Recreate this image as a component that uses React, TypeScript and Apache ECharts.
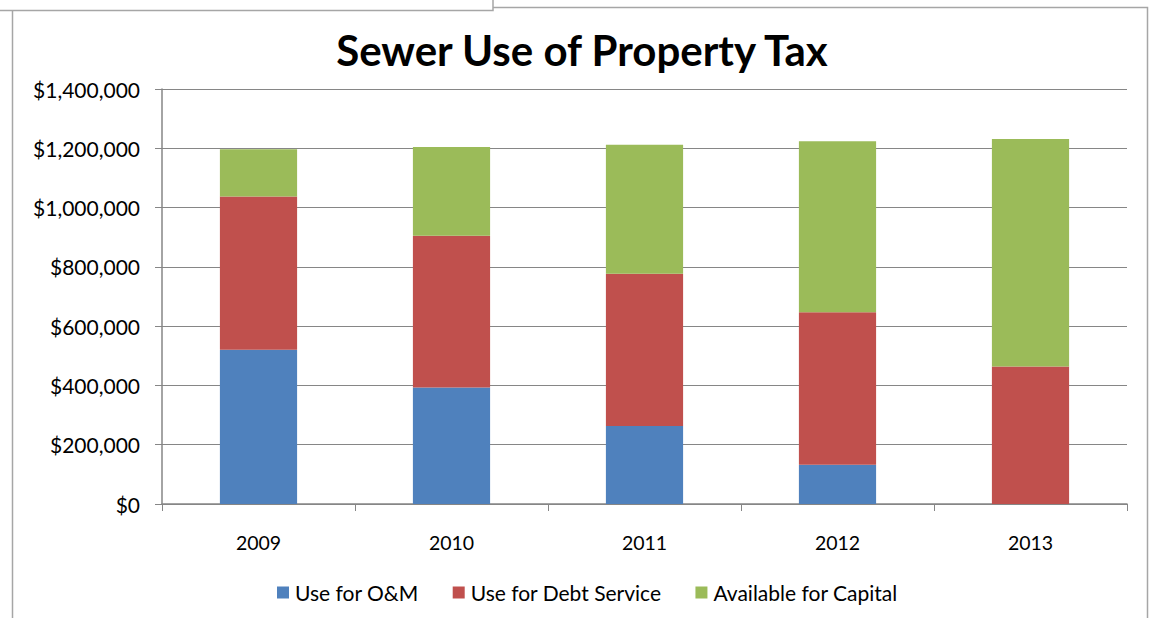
import React, { useEffect, useRef } from "react";
import * as echarts from "echarts";

const categories = ["2009", "2010", "2011", "2012", "2013"];
const omValues = [520000, 393000, 263000, 132000, 0];
const debtValues = [517000, 512000, 514000, 515000, 464000];
const capitalValues = [160000, 299000, 435000, 577000, 767000];
const seriesNames = ["Use for O&M", "Use for Debt Service", "Available for Capital"];
const yTicks = { min: 0, max: 1400000, interval: 200000 };

const FONT = "Lato";

export default function App() {
  const ref = useRef<HTMLDivElement>(null);
  useEffect(() => {
    if (!ref.current) return;
    const chart = echarts.init(ref.current, undefined, { renderer: "svg" });
    const fmt = (v: number) => "$" + v.toLocaleString("en-US");
    chart.setOption({
      animation: false,
      backgroundColor: "#ffffff",
      textStyle: { fontFamily: FONT },
      title: {
        text: "Sewer Use of Property Tax",
        left: 577,
        textAlign: "center",
        top: 24,
        textStyle: { fontFamily: FONT, fontWeight: "bold", fontSize: 42, color: "#000" },
      },
      legend: {
        data: seriesNames,
        left: 272,
        top: 577,
        itemWidth: 12,
        itemHeight: 12,
        itemGap: 34,
        icon: "rect",
        textStyle: { fontFamily: FONT, fontSize: 21, color: "#000", padding: [0, 0, 0, 1] },
      },
      grid: { left: 162, right: 23, top: 89, bottom: 114, containLabel: false },
      xAxis: {
        type: "category",
        data: categories,
        axisLine: { lineStyle: { color: "#868686", width: 1.5 } },
        axisTick: { show: true, length: 7, lineStyle: { color: "#868686" } },
        axisLabel: { fontFamily: FONT, fontSize: 19.5, color: "#000", margin: 28 },
      },
      yAxis: {
        type: "value",
        min: yTicks.min,
        max: yTicks.max,
        interval: yTicks.interval,
        axisLine: { show: true, lineStyle: { color: "#868686", width: 1.5 } },
        axisTick: { show: true, length: 7, lineStyle: { color: "#868686" } },
        splitLine: { lineStyle: { color: "#868686", width: 1 } },
        axisLabel: { fontFamily: FONT, fontSize: 21, color: "#000", margin: 22, formatter: fmt },
      },
      series: [
        { name: seriesNames[0], type: "bar", stack: "t", barWidth: "40%", data: omValues, itemStyle: { color: "#4F81BD" } },
        { name: seriesNames[1], type: "bar", stack: "t", barWidth: "40%", data: debtValues, itemStyle: { color: "#C0504D" } },
        { name: seriesNames[2], type: "bar", stack: "t", barWidth: "40%", data: capitalValues, itemStyle: { color: "#9BBB59" } },
      ],
      graphic: [
        {
          type: "rect",
          shape: { x: 12.5, y: 7.5, width: 1135, height: 700 },
          style: { fill: "none", stroke: "#a6a6a6", lineWidth: 1.5 },
          silent: true,
        },
        {
          type: "rect",
          shape: { x: -2, y: -2, width: 495, height: 12.5 },
          style: { fill: "#ffffff", stroke: "#a6a6a6", lineWidth: 1.5 },
          silent: true,
        },
      ],
    });
    return () => chart.dispose();
  }, []);
  return (
    <div
      ref={ref}
      style={{ position: "fixed", left: 0, top: 0, width: 1150, height: 618 }}
    />
  );
}
